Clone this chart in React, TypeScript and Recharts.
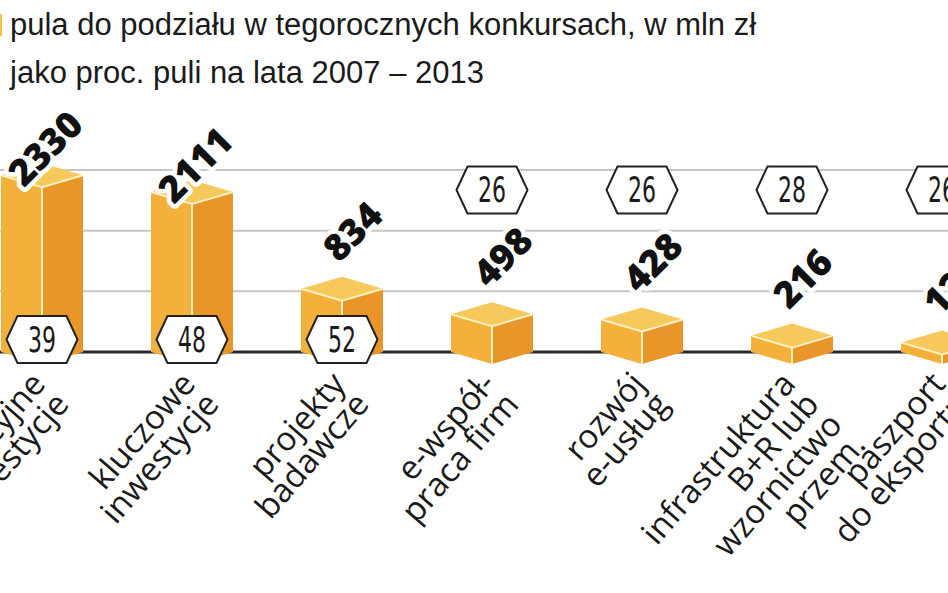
import React from 'react';
import { BarChart, Bar, XAxis, YAxis, CartesianGrid, LabelList } from 'recharts';

const categories = [
  'innowacyjne\ninwestycje',
  'kluczowe\ninwestycje',
  'projekty\nbadawcze',
  'e-współ-\npraca firm',
  'rozwój\ne-usług',
  'infrastruktura\nB+R lub\nwzornictwo\nprzem.',
  'paszport\ndo eksportu',
];
const pools = [2330, 2111, 834, 498, 428, 216, 125];
const shares = [39, 48, 52, 26, 26, 28, 26];
const yTicks = [0, 800, 1600, 2400];

const legendPool = 'pula do podziału w tegorocznych konkursach, w mln zł';
const legendShare = 'jako proc. puli na lata 2007 – 2013';

const data = categories.map((name, i) => ({ name, pool: pools[i], share: shares[i] }));

const CHART_W = 1050;
const CHART_H = 593;
const TOP = 170;
const AXIS_H = 241;
const BASE = CHART_H - AXIS_H;
const DEPTH = 12;

const Box = (props: any) => {
  const { x, y, width, height } = props;
  if (width == null || height == null) return null;
  const base = y + height;
  const mid = x + width / 2;
  const right = x + width;
  return (
    <g>
      <polygon points={`${x},${y} ${mid},${y + DEPTH} ${mid},${base + DEPTH} ${x},${base}`} fill="#f3b13c" />
      <polygon points={`${mid},${y + DEPTH} ${right},${y} ${right},${base} ${mid},${base + DEPTH}`} fill="#e8952a" />
      <polygon points={`${x},${y} ${mid},${y - DEPTH} ${right},${y} ${mid},${y + DEPTH}`} fill="#f7c85b" />
      <polyline points={`${x},${y} ${mid},${y + DEPTH} ${right},${y}`} fill="none" stroke="#fff0c0" strokeWidth={2} />
      <line x1={mid} y1={y + DEPTH} x2={mid} y2={base + DEPTH} stroke="#fff0c0" strokeWidth={2} />
    </g>
  );
};

const ValueLabel = (props: any) => {
  const { x, y, width, height, value } = props;
  const cx = x + width / 2;
  const tall = height > 100;
  const ox = tall ? cx - 18 : cx - 3;
  const oy = tall ? y + 13 : y - 25;
  return (
    <text
      x={ox}
      y={oy}
      transform={`rotate(-45 ${ox} ${oy})`}
      fontFamily="'Open Sans', sans-serif"
      fontWeight={800}
      fontSize={37}
      fill="#111"
      stroke="#fff"
      strokeWidth={9}
      strokeLinejoin="round"
      paintOrder="stroke"
    >
      {value}
    </text>
  );
};

const HexLabel = (props: any) => {
  const { x, y, width, height, value } = props;
  const cx = x + width / 2;
  const cy = height > 50 ? y + height - 12.5 : TOP + 20;
  const w = 71;
  const h = 47;
  const k = 11;
  const pts = [
    [cx - w / 2, cy],
    [cx - w / 2 + k, cy - h / 2],
    [cx + w / 2 - k, cy - h / 2],
    [cx + w / 2, cy],
    [cx + w / 2 - k, cy + h / 2],
    [cx - w / 2 + k, cy + h / 2],
  ]
    .map((p) => p.join(','))
    .join(' ');
  return (
    <g>
      <polygon points={pts} fill="#fff" stroke="#222" strokeWidth={2} />
      <text
        x={cx}
        y={cy + 12}
        textAnchor="middle"
        fontFamily="'Liberation Sans Narrow', 'DejaVu Sans Condensed', sans-serif"
        fontSize={35}
        textLength={28}
        lengthAdjust="spacingAndGlyphs"
        fill="#1a1a1a"
      >
        {value}
      </text>
    </g>
  );
};

const CatTick = (props: any) => {
  const { x, payload } = props;
  const lines = String(payload.value).split('\n');
  const ax = x + 5;
  const ay = BASE + 33;
  return (
    <g transform={`translate(${ax},${ay}) rotate(-49)`}>
      <text textAnchor="end" fontFamily="'Open Sans', sans-serif" fontSize={33} fill="#1a1a1a">
        {lines.map((l, i) => (
          <tspan key={i} x={0} dy={i === 0 ? 0 : 31}>
            {l}
          </tspan>
        ))}
      </text>
    </g>
  );
};

const GridLine = (props: any) => {
  const { x1, x2, y1, y2 } = props;
  const isBase = Math.abs(y1 - BASE) < 1;
  return (
    <line
      x1={x1}
      x2={x2}
      y1={y1}
      y2={y2}
      stroke={isBase ? '#2a2a2a' : '#c6c6c6'}
      strokeWidth={isBase ? 3 : 2}
    />
  );
};

const App: React.FC = () => {
  return (
    <div
      style={{
        position: 'fixed',
        left: 0,
        top: 0,
        width: 948,
        height: 593,
        overflow: 'hidden',
        background: '#fff',
      }}
    >
      <div style={{ position: 'absolute', left: -33, top: 0 }}>
        <BarChart width={CHART_W} height={CHART_H} data={data} margin={{ top: TOP, right: 0, bottom: 0, left: 0 }}>
          <CartesianGrid vertical={false} horizontal={(p: any) => <GridLine key={p.key} {...p} />} />
          <YAxis hide domain={[0, 2400]} ticks={yTicks} />
          <XAxis
            dataKey="name"
            interval={0}
            axisLine={false}
            tickLine={false}
            height={AXIS_H}
            tick={(p: any) => <CatTick {...p} />}
          />
          <Bar dataKey="pool" barSize={82} shape={(p: any) => <Box {...p} />} isAnimationActive={false}>
            <LabelList dataKey="share" content={(p: any) => <HexLabel {...p} />} />
            <LabelList dataKey="pool" content={(p: any) => <ValueLabel {...p} />} />
          </Bar>
        </BarChart>
      </div>
      <div style={{ position: 'absolute', left: -18, top: 14, width: 20, height: 22, background: '#f5c244' }} />
      <div
        style={{
          position: 'absolute',
          left: 10,
          top: 1,
          fontFamily: "'Liberation Sans', sans-serif",
          fontSize: 31,
          lineHeight: '48px',
          color: '#1a1a1a',
          whiteSpace: 'nowrap',
        }}
      >
        <div>{legendPool}</div>
        <div>{legendShare}</div>
      </div>
    </div>
  );
};

export default App;
